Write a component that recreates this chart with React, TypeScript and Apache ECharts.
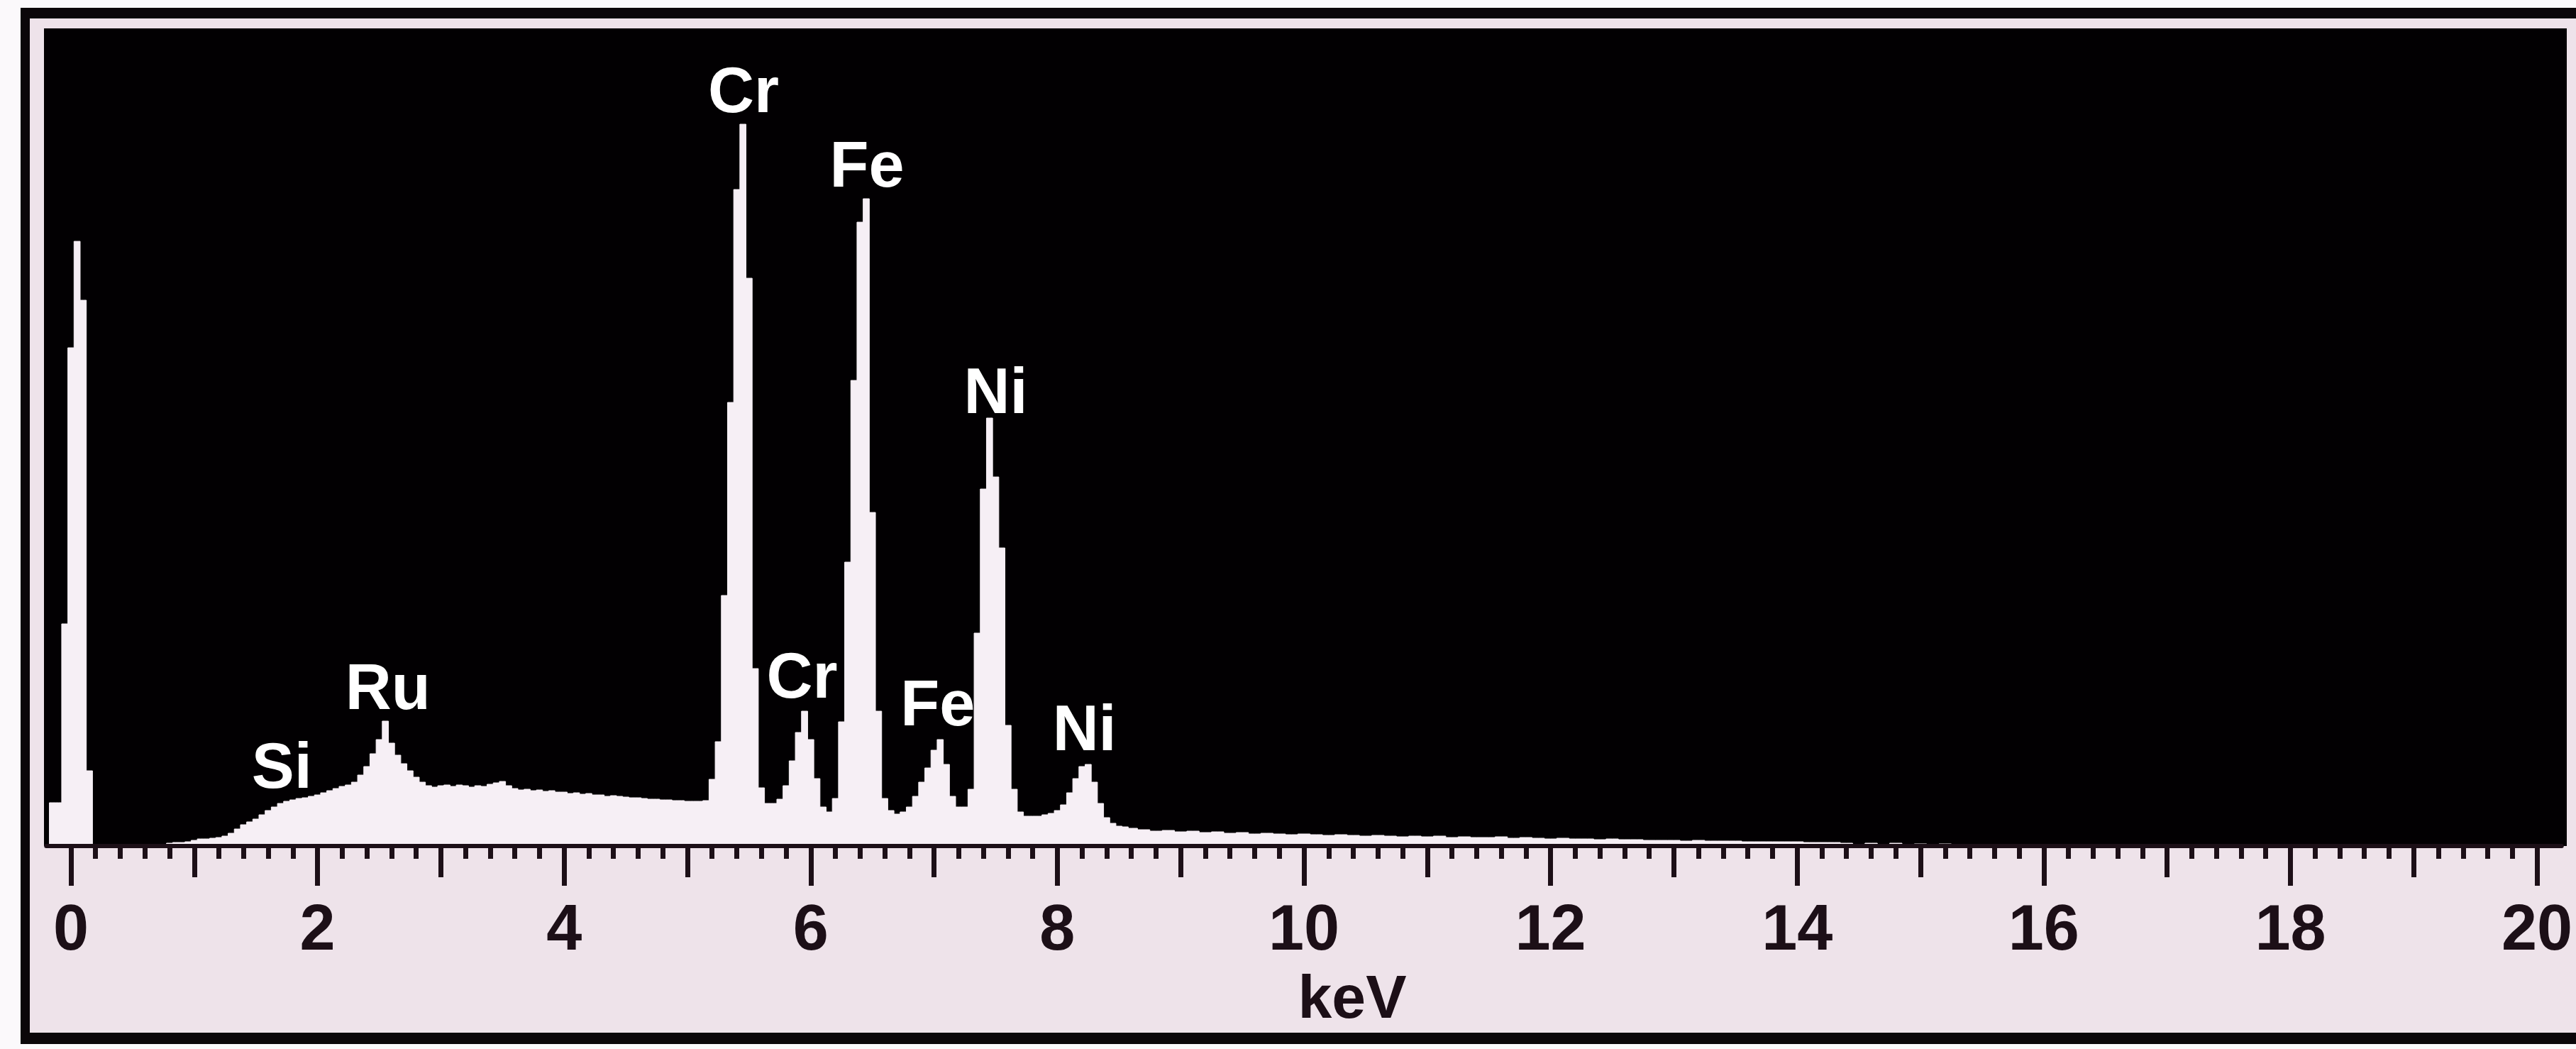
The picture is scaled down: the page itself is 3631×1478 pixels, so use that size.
import React, { useEffect, useRef } from "react";
import * as echarts from "echarts";

// ---- spectrum data (counts in arbitrary units) ----
const CH_START = -0.15; // keV of first channel
const CH_STEP = 0.05; // keV per channel
const mainCounts = [
  61, 61, 313, 702, 852, 769, 106, 0, 0, 0,
  0, 0, 0, 0, 0, 0, 0, 0, 0, 4,
  5, 5, 6, 8, 10, 10, 11, 12, 14, 18,
  24, 30, 34, 38, 44, 50, 55, 60, 63, 65,
  67, 68, 70, 72, 75, 78, 81, 84, 86, 90,
  100, 112, 130, 150, 176, 145, 128, 116, 106, 97,
  90, 85, 83, 85, 86, 84, 86, 85, 83, 85,
  84, 87, 89, 91, 85, 81, 79, 80, 78, 79,
  77, 78, 76, 76, 74, 75, 73, 74, 72, 72,
  70, 71, 70, 69, 68, 68, 67, 66, 66, 65,
  65, 64, 64, 63, 63, 63, 64, 94, 147, 353,
  625, 925, 1017, 800, 250, 82, 60, 60, 66, 85,
  120, 160, 190, 150, 95, 55, 48, 67, 175, 400,
  656, 879, 912, 470, 190, 67, 50, 45, 48, 55,
  70, 90, 110, 135, 150, 115, 70, 55, 55, 80,
  300, 503, 603, 520, 420, 170, 80, 48, 42, 42,
  42, 44, 46, 50, 58, 75, 95, 112, 115, 90,
  60, 40, 32, 28, 27,
];
const TAIL_START = 8.6;
const TAIL_STEP = 0.1;
const tailCounts = [
  25, 23, 21, 22, 20, 21, 19, 20, 18, 19,
  17, 18, 17, 16, 17, 16, 15, 16, 15, 14,
  15, 14, 13, 14, 13, 14, 12, 13, 12, 12,
  13, 11, 12, 11, 10, 11, 10, 10, 9, 10,
  9, 9, 8, 8, 8, 7, 8, 7, 7, 7,
  6, 6, 6, 6, 6, 5, 5, 5, 4, 0,
  4, 0, 4, 0, 3, 0, 3, 0,
];

// ---- peak annotations ----
const peakNames = ["Cr", "Fe", "Ni", "Cr", "Fe", "Ni", "Si", "Ru"];
const peakKeV = [5.455, 6.456, 7.5, 5.93, 7.03, 8.22, 1.71, 2.57];
const peakLabelCounts = [1065, 960, 641, 240, 201, 166, 113, 224];

// ---- axis ----
const X_MIN = -0.2;
const X_MAX = 20.2;
const Y_MAX = 1152;
const labelValues = [0, 2, 4, 6, 8, 10, 12, 14, 16, 18, 20];
const tickLabels = ["0", "2", "4", "6", "8", "10", "12", "14", "16", "18", "20"];
const oddTicks = [1, 3, 5, 7, 9, 11, 13, 15, 17, 19];
const minorTicks: number[] = [];
for (let i = 0; i <= 100; i++) {
  if (i % 5 !== 0) minorTicks.push(Math.round(i * 20) / 100);
}

const FONT = "'Liberation Sans', Arial, sans-serif";
const INK = "#1c0f17";
const FILL = "#f6eff5";

function buildSpectrum(): number[][] {
  const pts: number[][] = [[X_MIN, 0]];
  mainCounts.forEach((c, i) => pts.push([+(CH_START + i * CH_STEP).toFixed(3), c]));
  tailCounts.forEach((c, i) => pts.push([+(TAIL_START + i * TAIL_STEP).toFixed(3), c]));
  pts.push([15.4, 0]);
  pts.push([X_MAX, 0]);
  return pts;
}

const baseAxis = {
  type: "value",
  min: X_MIN,
  max: X_MAX,
  position: "bottom",
  gridIndex: 0,
  splitLine: { show: false },
  axisLine: { show: false, onZero: false },
  axisLabel: { show: false },
};

export default function App() {
  const ref = useRef<HTMLDivElement>(null);
  useEffect(() => {
    document.body.style.margin = "0";
    const chart = echarts.init(ref.current!, null, { renderer: "svg" });
    const option: any = {
      animation: false,
      backgroundColor: "#fbf9fb",
      graphic: [
        { type: "rect", z: -10, silent: true, shape: { x: 29, y: 11, width: 3620, height: 1460 }, style: { fill: "#0b0609" } },
        { type: "rect", z: -9, silent: true, shape: { x: 42, y: 26, width: 3600, height: 1429 }, style: { fill: "#eee3ea" } },
        { type: "rect", z: -8, silent: true, shape: { x: 62, y: 40, width: 3556, height: 1152 }, style: { fill: "#020002" } },
      ],
      grid: { left: 65.2, top: 40, width: 3545.6, height: 1152, containLabel: false },
      xAxis: [
        {
          ...baseAxis,
          z: 5,
          axisLine: { show: true, onZero: false, lineStyle: { color: INK, width: 6 } },
          axisTick: { show: true, customValues: labelValues, length: 56, lineStyle: { color: INK, width: 7 } },
          axisLabel: {
            show: true,
            customValues: labelValues,
            formatter: (v: number) => tickLabels[labelValues.indexOf(Math.round(v))] ?? String(v),
            margin: 115,
            verticalAlign: "middle",
            color: INK,
            fontSize: 90,
            fontWeight: "bold",
            fontFamily: FONT,
          },
          name: "keV",
          nameLocation: "middle",
          nameGap: 212,
          nameTextStyle: {
            color: INK,
            fontSize: 86,
            fontWeight: "bold",
            fontFamily: FONT,
            verticalAlign: "middle",
            padding: [0, 0, 0, 136],
          },
        },
        {
          ...baseAxis,
          z: 5,
          axisTick: { show: true, customValues: oddTicks, length: 44, lineStyle: { color: INK, width: 7 } },
        },
        {
          ...baseAxis,
          z: 5,
          axisTick: { show: true, customValues: minorTicks, length: 18, lineStyle: { color: INK, width: 7 } },
        },
      ],
      yAxis: { type: "value", min: 0, max: Y_MAX, show: false, splitLine: { show: false } },
      series: [
        {
          type: "line",
          name: "spectrum",
          xAxisIndex: 0,
          data: buildSpectrum(),
          step: "middle",
          symbol: "none",
          lineStyle: { width: 1, color: FILL },
          areaStyle: { color: FILL, opacity: 1 },
          z: 2,
          silent: true,
        },
        {
          type: "scatter",
          name: "peaks",
          xAxisIndex: 0,
          data: peakNames.map((n, i) => ({ name: n, value: [peakKeV[i], peakLabelCounts[i]] })),
          symbolSize: 1,
          itemStyle: { color: "rgba(0,0,0,0)" },
          label: {
            show: true,
            position: "inside",
            formatter: "{b}",
            color: "#ffffff",
            opacity: 1,
            textBorderWidth: 0,
            fontSize: 90,
            fontWeight: "bold",
            fontFamily: FONT,
          },
          z: 4,
          silent: true,
        },
      ],
    };
    chart.setOption(option);
    return () => chart.dispose();
  }, []);
  return <div ref={ref} style={{ width: 3631, height: 1478 }} />;
}
